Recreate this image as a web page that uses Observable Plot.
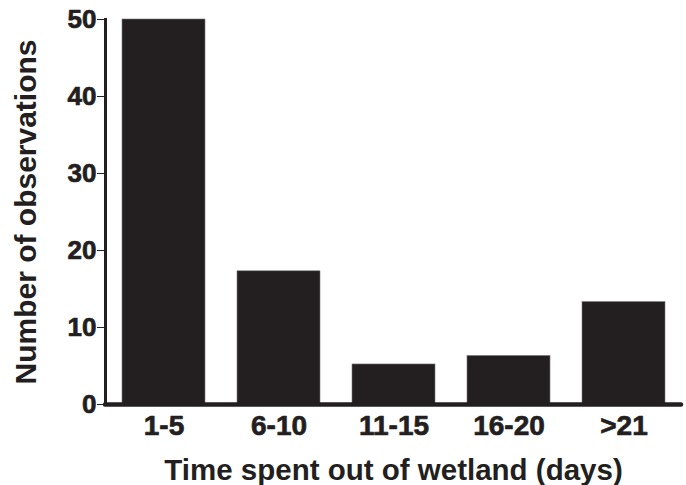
<!DOCTYPE html>
<html>
<head>
<meta charset="utf-8">
<script src="https://cdn.jsdelivr.net/npm/d3@7"></script>
<script src="https://cdn.jsdelivr.net/npm/@observablehq/plot@0.6"></script>
<style>
  html, body { margin: 0; padding: 0; background: #fff; }
</style>
</head>
<body>
<div id="chart"></div>
<script>
const categories = ["1-5", "6-10", "11-15", "16-20", ">21"];
const counts = [50, 17.3, 5.2, 6.3, 13.3];
const yTicks = [0, 10, 20, 30, 40, 50];
const xTitle = "Time spent out of wetland (days)";
const yTitle = "Number of observations";

const data = categories.map((c, i) => ({category: c, count: counts[i]}));
const ink = "#231f20";
const heavy = {textStroke: ink, textStrokeWidth: 0.7, textStrokeOpacity: 1};

const chart = Plot.plot({
  width: 686,
  height: 485,
  marginLeft: 105,
  marginRight: 5,
  marginTop: 19,
  marginBottom: 81,
  style: {fontFamily: "Liberation Sans, Arial, sans-serif", fontWeight: "bold", color: ink, background: "#fff"},
  x: {type: "band", domain: categories, paddingInner: 0.28, paddingOuter: 0.14},
  y: {domain: [0, 50]},
  marks: [
    Plot.barY(data, {x: "category", y: "count", fill: ink, stroke: "#777", strokeWidth: 0.6}),
    Plot.frame({anchor: "left", stroke: ink, strokeWidth: 3}),
    Plot.ruleY([0], {stroke: ink, strokeWidth: 4.5, strokeLinecap: "round"}),
    Plot.axisY({
      ticks: yTicks, tickSize: 8, tickPadding: 1, tickWidth: 3, stroke: ink,
      fontSize: 26, fontWeight: "bold", letterSpacing: -0.8, ...heavy,
      label: null
    }),
    Plot.axisY({
      ticks: [], tickSize: 0,
      fontSize: 30, fontWeight: "bold", ...heavy,
      label: yTitle, labelAnchor: "center", labelArrow: "none", labelOffset: 91
    }),
    Plot.axisX({
      tickSize: 0, tickPadding: 11, fontSize: 28, fontWeight: "bold", ...heavy,
      label: null
    }),
    Plot.axisX({
      ticks: [], tickSize: 0, fontSize: 29.5, fontWeight: "bold", ...heavy,
      label: xTitle, labelAnchor: "center", labelArrow: "none", labelOffset: 75
    })
  ]
});
document.getElementById("chart").appendChild(chart);
</script>
</body>
</html>
